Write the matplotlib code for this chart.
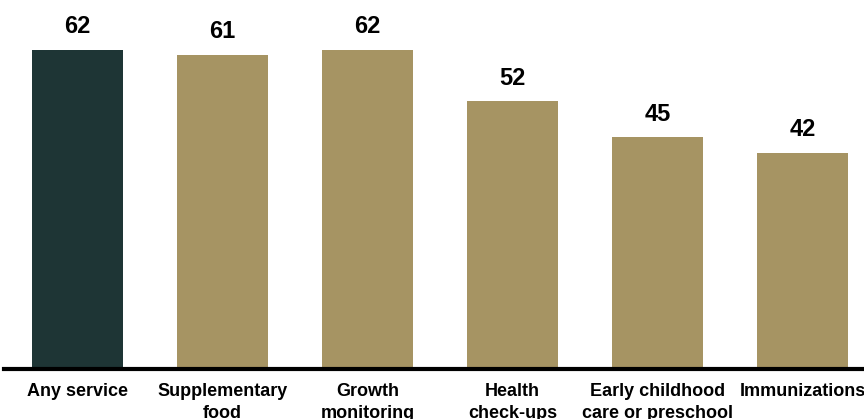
import numpy as np
import matplotlib.pyplot as plt

plt.rcParams['font.family'] = ['Liberation Sans', 'DejaVu Sans']

# data
categories = ['Any service', 'Supplementary\nfood', 'Growth\nmonitoring',
              'Health\ncheck-ups', 'Early childhood\ncare or preschool', 'Immunizations']
values = [62, 61, 62, 52, 45, 42]

dark, tan = '#1e3535', '#a69463'
colors = [dark] + [tan] * (len(values) - 1)

fig = plt.figure(figsize=(8.64, 4.19), dpi=100)
ax = fig.add_axes([4 / 864, 50 / 419, 860 / 864, 369 / 419])

x = np.arange(len(values))
ax.bar(x, values, width=0.627, color=colors, zorder=2)

for xi, v in zip(x, values):
    ax.annotate(str(v), (xi, v), xytext=(0, 12), textcoords='offset points',
                ha='center', va='baseline', fontsize=17, fontweight='bold')

ax.set_xlim(-0.507, 5.424)
ax.set_ylim(0, 71.7)

for s in ['top', 'right', 'left']:
    ax.spines[s].set_visible(False)
ax.spines['bottom'].set_linewidth(3)
ax.spines['bottom'].set_color('black')
ax.spines['bottom'].set_zorder(3)

ax.set_yticks([])
ax.set_xticks(x)
ax.set_xticklabels(categories, fontsize=13, fontweight='bold', linespacing=1.4)
ax.tick_params(axis='x', length=0, pad=10)

fig.savefig('out.png', dpi=100)
